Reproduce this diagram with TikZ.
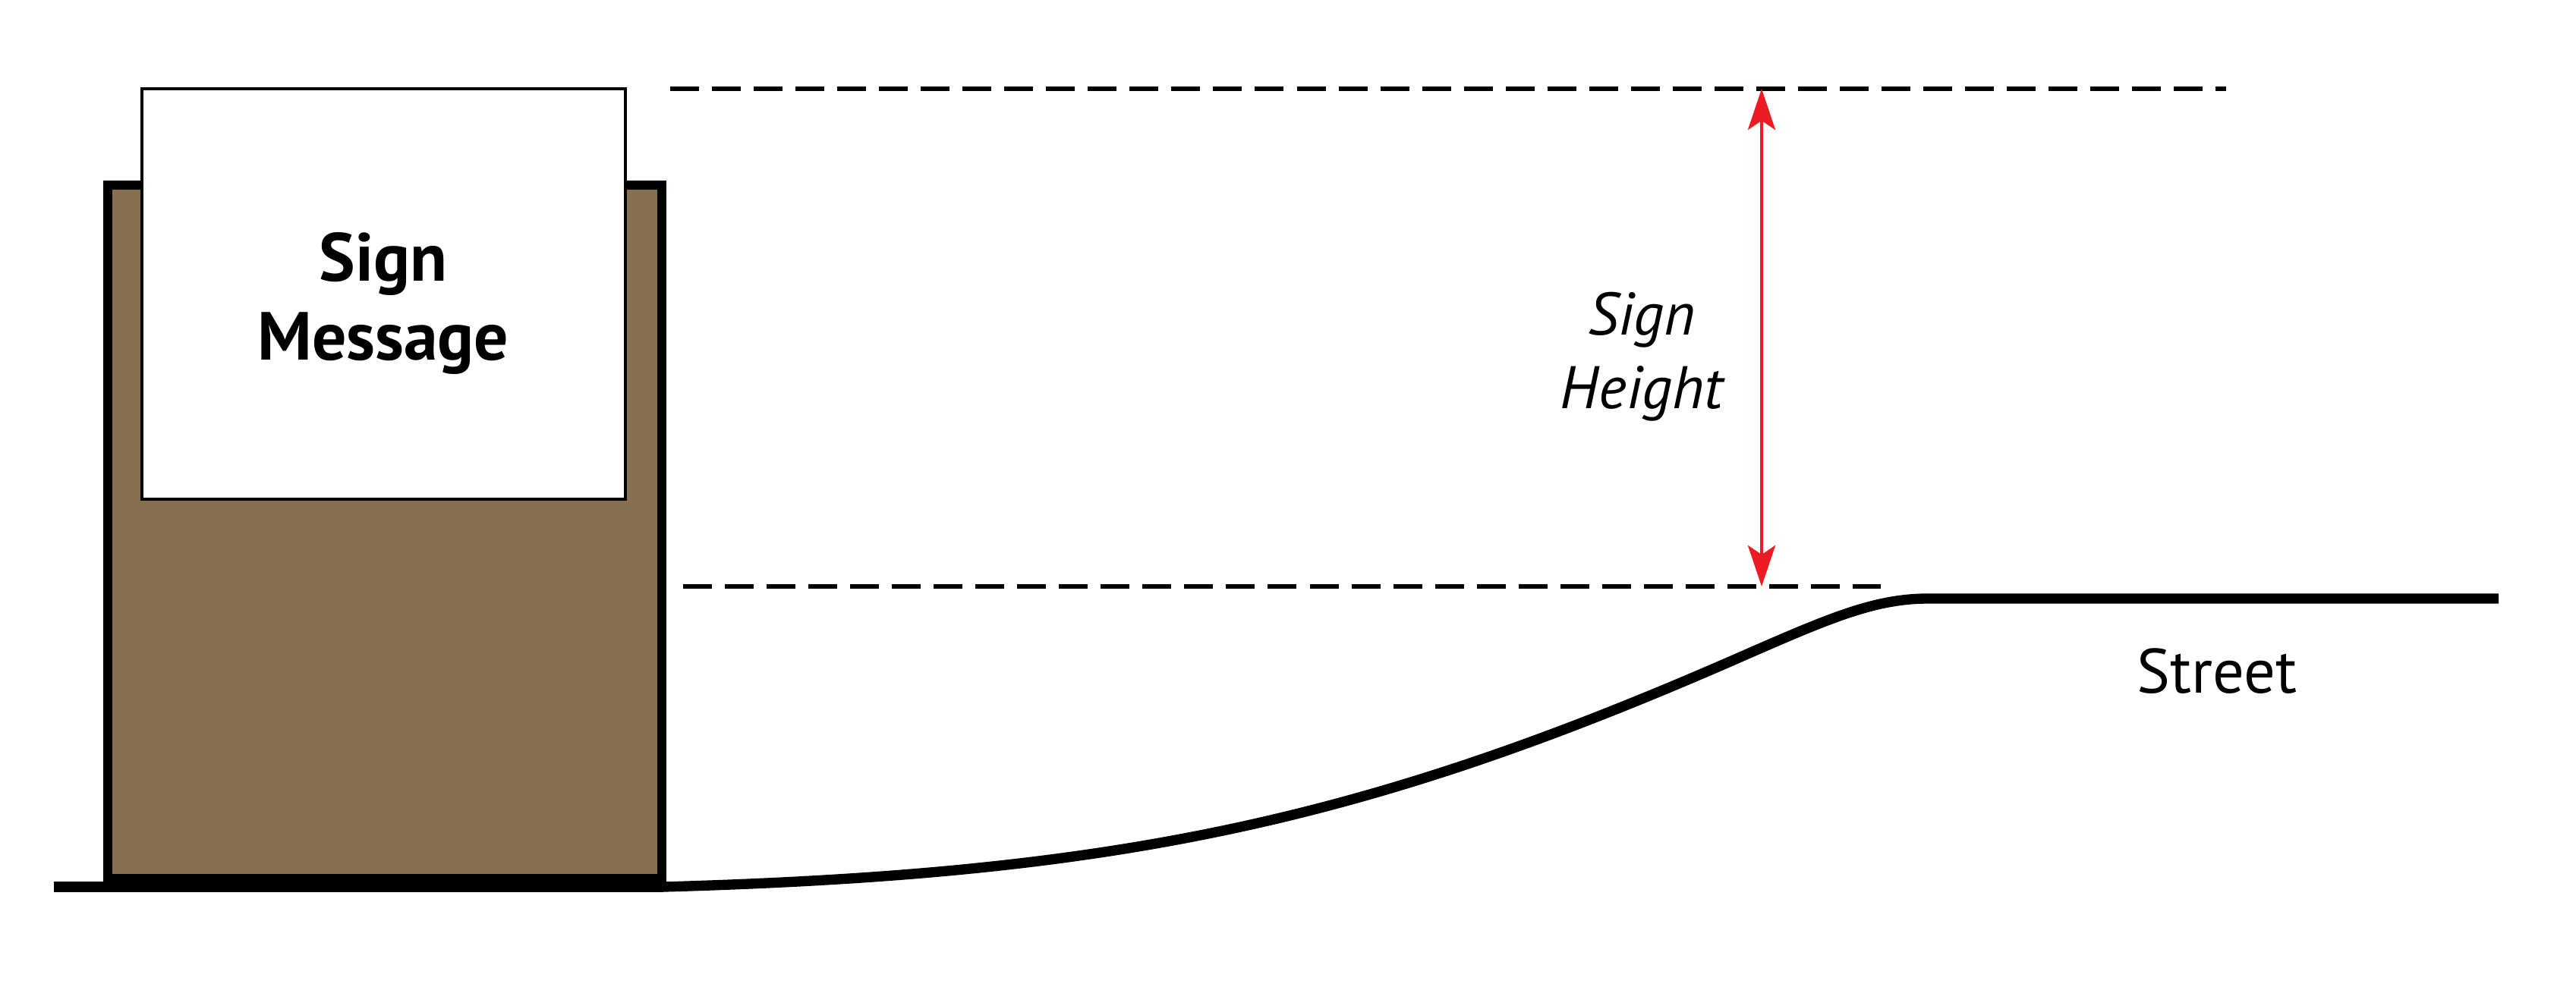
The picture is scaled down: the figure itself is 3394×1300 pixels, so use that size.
\documentclass[tikz,border=0pt]{standalone}
\usepackage{fontspec}
\setmainfont{PT Sans}
\usetikzlibrary{arrows.meta}
\definecolor{postbrown}{RGB}{134,112,79}
\definecolor{dimred}{RGB}{237,28,36}
\tikzset{
  postbox/.style={draw=black, fill=postbrown, line width=3.4pt, minimum width=7.30cm, minimum height=9.14cm, inner sep=0pt},
  signbox/.style={draw=black, fill=white, line width=1.2pt, minimum width=6.37cm, minimum height=5.41cm, inner sep=0pt},
  signtext/.style={anchor=base, inner sep=0pt, font=\fontsize{25.5}{30}\selectfont\bfseries},
  guide/.style={draw=black, line width=1.5pt, dash pattern=on 0.38cm off 0.17cm},
  ground/.style={draw=black, line width=4pt},
  road/.style={draw=black, line width=3.8pt},
  dimarrow/.style={draw=dimred, line width=1.3pt, {Stealth[length=0.54cm, width=0.36cm, inset=0.12cm]}-{Stealth[length=0.54cm, width=0.36cm, inset=0.12cm]}, fill=dimred},
  dimlabel/.style={align=center, font=\fontsize{22.5}{27.6}\selectfont\itshape},
  streetlabel/.style={font=\fontsize{23.5}{28}\selectfont}
}
\begin{document}
\begin{tikzpicture}[x=0.01cm, y=-0.01cm]
\useasboundingbox (0,0) rectangle (3394,1300);
% post
\node[postbox] (post) at (507,701) {};
% ground under post
\coordinate (gl) at (71,1169);
\coordinate (gr) at (874,1169);
\draw[ground] (gl) -- (gr);
% sign
\node[signbox] (sign) at (505.5,387.5) {};
\node[signtext] (signA) at (505,370) {Sign};
\node[signtext] (signB) at (505,474) {Message};
% street profile
\coordinate (bend) at (2300,863);
\coordinate (crest) at (2540,789);
\coordinate (streetEnd) at (3292,789);
\draw[road, line cap=butt] (gr) .. controls (1474,1152) and (1800,1083) .. (bend)
   .. controls (2410,815) and (2470,789) .. (crest) -- (streetEnd);
% guide lines
\coordinate (topL) at (883,117);
\coordinate (topR) at (2933,117);
\coordinate (botL) at (900,773);
\coordinate (botR) at (2478,773);
\draw[guide] (topL) -- (topR);
\draw[guide] (botL) -- (botR);
% dimension arrow
\coordinate (arrTop) at (2321,117);
\coordinate (arrBot) at (2321,773);
\draw[dimarrow] (arrTop) -- (arrBot);
\node[dimlabel] (hlabel) at (2163,470) {Sign\\Height};
\node[streetlabel] (street) at (2921,885) {Street};
\end{tikzpicture}
\end{document}
